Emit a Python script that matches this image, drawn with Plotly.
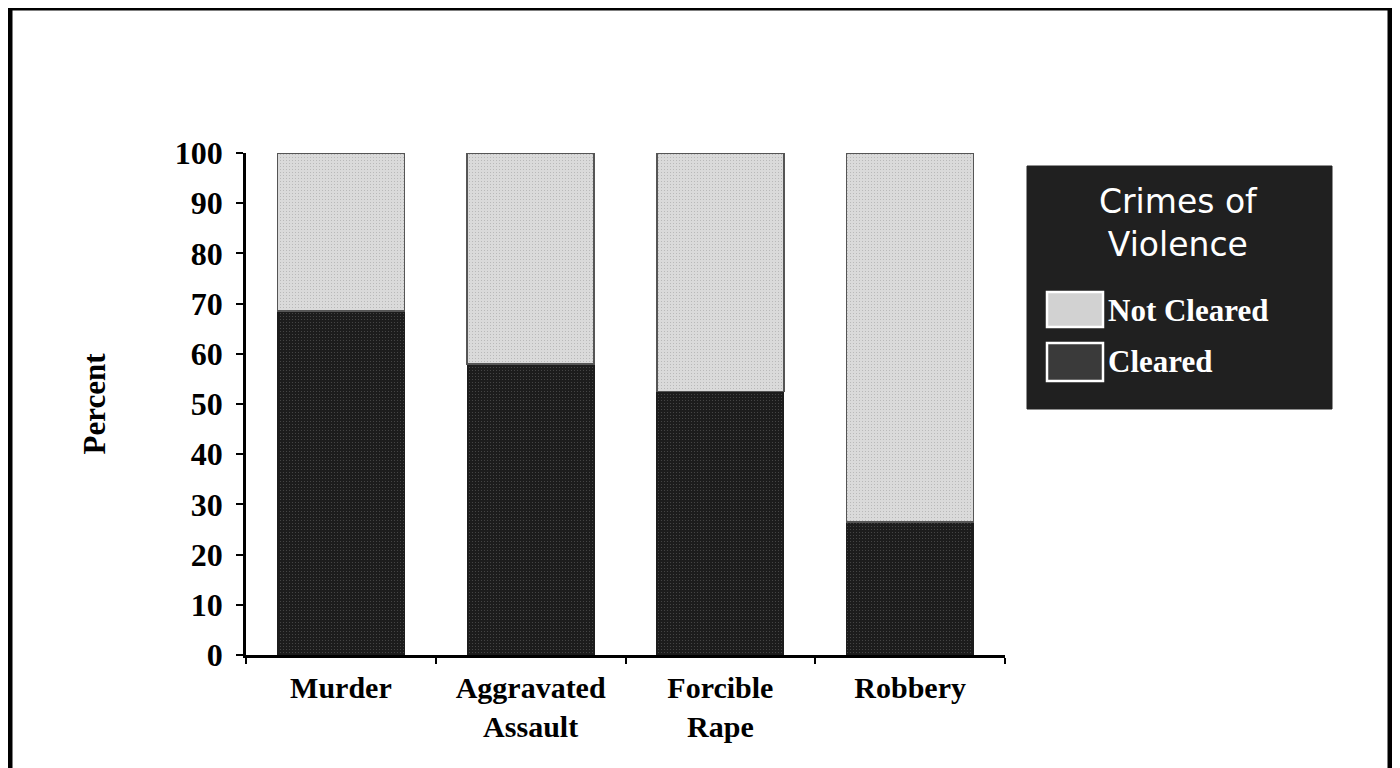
import plotly.graph_objects as go

# data (percent of offenses)
categories = ["Murder", "Aggravated<br>Assault", "Forcible<br>Rape", "Robbery"]
cleared = [68.5, 58.0, 52.5, 26.5]
not_cleared = [100 - v for v in cleared]
y_ticks = list(range(0, 101, 10))

OFF = 8  # the page body margin shifts the figure by 8px
W, H = 1400 - OFF, 768 - OFF
# plot area in screen pixels: x 246..1005, y 153..655
L, R, T, B = 246 - OFF, 1400 - 1005, 153 - OFF, 768 - 655


def px(x):  # screen pixel x -> paper x
    return (x - OFF - L) / (W - L - R)


def py(y):  # screen pixel y -> paper y
    return (H - B - (y - OFF)) / (H - T - B)


serif = "Liberation Serif, Times New Roman, serif"

fig = go.Figure()
fig.add_trace(go.Bar(x=categories, y=cleared, name="Cleared",
                     marker=dict(color="#1c1c1c", line=dict(color="#1c1c1c", width=1),
                                 pattern=dict(shape=".", fgcolor="#7a7a7a", size=3, solidity=0.12,
                                              fillmode="overlay"))))
fig.add_trace(go.Bar(x=categories, y=not_cleared, name="Not Cleared",
                     marker=dict(color="#dadada", line=dict(color="#555555", width=1.5),
                                 pattern=dict(shape=".", fgcolor="#8c8c8c", size=3, solidity=0.12,
                                              fillmode="overlay"))))

fig.update_layout(
    barmode="stack", bargap=0.33, showlegend=False,
    width=W, height=H, margin=dict(l=L, r=R, t=T, b=B),
    plot_bgcolor="white", paper_bgcolor="white",
    font=dict(family=serif, size=30, color="black"),
)
fig.update_yaxes(range=[0, 100], tickvals=y_ticks, showline=True, linecolor="black", linewidth=2.5,
                 ticks="outside", ticklen=7, tickwidth=2, tickcolor="black", showgrid=False,
                 zeroline=False, ticklabelstandoff=7,
                 tickfont=dict(family=serif, size=32, weight="bold"),
                 title=dict(text="<b>Percent</b>", standoff=60, font=dict(family=serif, size=31)))
fig.update_xaxes(range=[-0.5, 3.5], showline=True, linecolor="black", linewidth=2.5,
                 ticks="outside", tickson="boundaries", ticklen=6, tickwidth=2, tickcolor="black",
                 showgrid=False, ticklabelstandoff=4,
                 tickfont=dict(family=serif, size=30, weight="bold"))

# page border (scanned frame, open at the bottom)
frame = dict(color="black", width=5)
fig.add_shape(type="line", xref="paper", yref="paper", x0=px(10), x1=px(1390), y0=py(8), y1=py(8), line=frame)
fig.add_shape(type="line", xref="paper", yref="paper", x0=px(10), x1=px(10), y0=py(8), y1=py(780), line=frame)
fig.add_shape(type="line", xref="paper", yref="paper", x0=px(1390), x1=px(1390), y0=py(8), y1=py(780), line=frame)

# legend box drawn by hand to get the big swatches
fig.add_shape(type="rect", xref="paper", yref="paper", x0=px(1027), x1=px(1332), y0=py(409), y1=py(166),
              fillcolor="#202020", line=dict(color="#202020", width=1), layer="above")
fig.add_annotation(text="Crimes of<br>Violence", xref="paper", yref="paper", x=px(1178), y=py(223),
                   xanchor="center", yanchor="middle", showarrow=False,
                   font=dict(family="DejaVu Sans", size=33, color="white"))
fig.add_shape(type="rect", xref="paper", yref="paper", x0=px(1047), x1=px(1103), y0=py(327), y1=py(292),
              fillcolor="#d2d2d2", line=dict(color="white", width=2.5), layer="above")
fig.add_shape(type="rect", xref="paper", yref="paper", x0=px(1047), x1=px(1103), y0=py(381), y1=py(343),
              fillcolor="#3a3a3a", line=dict(color="white", width=2.5), layer="above")
for txt, yy in [("<b>Not Cleared</b>", 310), ("<b>Cleared</b>", 361)]:
    fig.add_annotation(text=txt, xref="paper", yref="paper", x=px(1106), y=py(yy),
                       xanchor="left", yanchor="middle", showarrow=False,
                       font=dict(family=serif, size=31, color="white"))

fig.write_html("out.html")
